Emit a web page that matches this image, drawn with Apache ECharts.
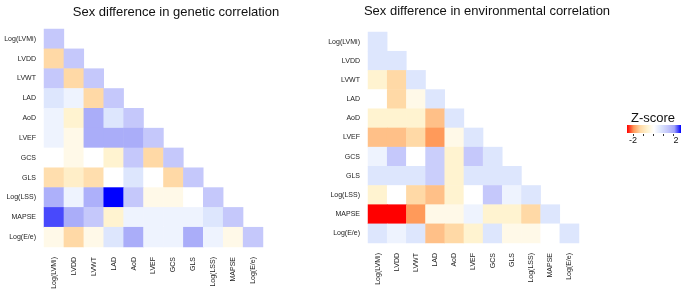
<!DOCTYPE html>
<html>
<head>
<meta charset="utf-8">
<script src="https://cdn.jsdelivr.net/npm/echarts@6/dist/echarts.min.js"></script>
<style>
  html, body { margin: 0; padding: 0; background: #fff; }
  #chart { width: 685px; height: 292px; }
</style>
</head>
<body>
<div id="chart"></div>
<script>
const TRAITS = ["Log(LVMi)", "LVDD", "LVWT", "LAD", "AoD", "LVEF", "GCS", "GLS", "Log(LSS)", "MAPSE", "Log(E/e)"];

// lower triangle, row i has i+1 values (columns 0..i)
const geneticZ = [
  [1.0],
  [-1.0, 1.0],
  [1.0, -1.0, 1.0],
  [0.5, 0.25, -1.0, 1.0],
  [0.25, -0.5, 1.4, 0.5, 1.0],
  [0.25, -0.25, 1.4, 1.4, 1.4, 1.0],
  [0, -0.25, 0, -0.5, 1.0, -1.0, 1.0],
  [-0.9, -0.6, -0.9, 0, 0.5, 0, -1.0, 1.0],
  [1.35, 0.25, 1.35, 2.0, 1.0, -0.25, -0.25, 0, 1.0],
  [1.78, 1.4, 1.0, -0.5, 0.25, 0.25, 0.25, 0.25, 0.5, 1.0],
  [-0.25, -1.0, -0.25, 0.5, 1.4, 0.25, 0.25, 1.4, 0.25, -0.25, 1.0],
];

const envZ = [
  [0.5],
  [0.5, 0.5],
  [-0.5, -1.0, 0.5],
  [0, -1.0, -0.25, 0.5],
  [-0.5, -0.5, -0.5, -1.2, 0.5],
  [-1.2, -1.2, -1.0, -1.5, -0.25, 0.5],
  [0.25, 1.0, 0, 0.9, -0.5, 1.0, 0.5],
  [0.5, 0.5, 0.5, 0.9, -0.5, 0.5, 0.5, 0.5],
  [-0.5, 0, -1.0, -1.2, -0.5, 0, 1.0, 0.25, 0.5],
  [-2.0, -2.0, -1.5, -0.25, -0.25, 0.25, -0.5, -0.5, -1.0, 0.5],
  [0.5, 0.25, 0.5, -1.2, -1.0, -0.5, 0.5, -0.25, -0.25, 0, 0.5],
];

const Z_COLORS = ["#ff0000", "#ff9a5a", "#ffd9a6", "#fff3d0", "#ffffff", "#dde6fd", "#c5c8fb", "#a3a6f9", "#0000ff"];
const Z_TICKS = ["-2", "2"];

function toCells(rows) {
  const out = [];
  rows.forEach((row, i) => {
    row.forEach((v, j) => out.push([j, i, v]));
  });
  return out;
}

const labelFont = { fontFamily: "Arial, Liberation Sans", fontSize: 7, color: "#222" };

function xAxisFor(idx) {
  return {
    type: "category", gridIndex: idx, data: TRAITS,
    axisLine: { show: false }, axisTick: { show: false }, splitLine: { show: false },
    axisLabel: Object.assign({ rotate: 90, margin: 10, interval: 0 }, labelFont),
  };
}
function yAxisFor(idx) {
  return {
    type: "category", gridIndex: idx, data: TRAITS, inverse: true,
    axisLine: { show: false }, axisTick: { show: false }, splitLine: { show: false },
    axisLabel: Object.assign({ margin: 8, interval: 0 }, labelFont),
  };
}

const chart = echarts.init(document.getElementById("chart"));

const stops = Z_COLORS.map((c, i) => ({ offset: i / (Z_COLORS.length - 1), color: c }));
const barX = 627, barY = 125, barW = 54, barH = 8;
const tickMarks = [0, 1, 2, 3, 4].map((k) => ({
  type: "rect",
  shape: { x: 633 + k * 10, y: barY + barH + 1, width: 1, height: 2 },
  style: { fill: "#333" },
}));

const titleStyle = { fontFamily: "Arial, Liberation Sans", fontSize: 13, fontWeight: "normal", color: "#111" };

chart.setOption({
  animation: false,
  title: [
    { text: "Sex difference in genetic correlation", left: 171, top: 1, textAlign: "center", textStyle: titleStyle },
    { text: "Sex difference in environmental correlation", left: 482, top: 0, textAlign: "center", textStyle: titleStyle },
  ],
  grid: [
    { left: 44, top: 29, width: 219, height: 218 },
    { left: 368, top: 32, width: 211, height: 211 },
  ],
  xAxis: [xAxisFor(0), xAxisFor(1)],
  yAxis: [yAxisFor(0), yAxisFor(1)],
  visualMap: {
    type: "continuous", show: false, min: -2, max: 2, seriesIndex: [0, 1],
    inRange: { color: Z_COLORS },
  },
  series: [
    { type: "heatmap", xAxisIndex: 0, yAxisIndex: 0, data: toCells(geneticZ), itemStyle: { borderWidth: 0 } },
    { type: "heatmap", xAxisIndex: 1, yAxisIndex: 1, data: toCells(envZ), itemStyle: { borderWidth: 0 } },
  ],
  graphic: [
    { type: "text", x: 653, y: 118, style: { text: "Z-score", fontFamily: "Arial, Liberation Sans", fontSize: 13, fill: "#111", align: "center", verticalAlign: "middle" } },
    { type: "rect", shape: { x: barX, y: barY, width: barW, height: barH },
      style: { fill: new echarts.graphic.LinearGradient(0, 0, 1, 0, stops) } },
    ...tickMarks,
    { type: "text", x: 633, y: 141, style: { text: Z_TICKS[0], fontFamily: "Arial, Liberation Sans", fontSize: 9, fill: "#111", align: "center", verticalAlign: "middle" } },
    { type: "text", x: 676, y: 141, style: { text: Z_TICKS[1], fontFamily: "Arial, Liberation Sans", fontSize: 9, fill: "#111", align: "center", verticalAlign: "middle" } },
  ],
});
</script>
</body>
</html>
